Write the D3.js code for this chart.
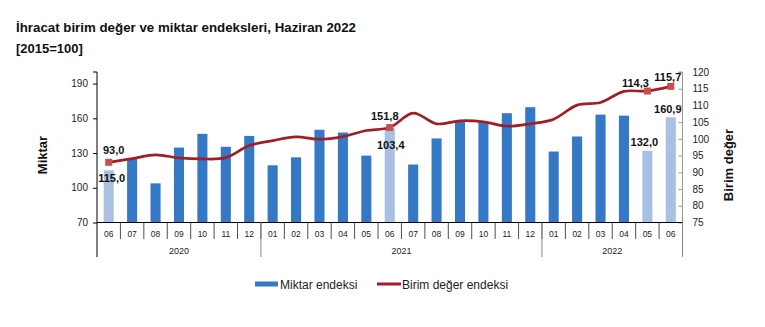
<!DOCTYPE html>
<html><head><meta charset="utf-8">
<script src="https://cdn.jsdelivr.net/npm/d3@7"></script>
<style>
html,body{margin:0;padding:0;background:#fff;}
svg{display:block;font-family:"Liberation Sans",Arial,sans-serif;}
</style></head>
<body><svg id="c" width="765" height="327"></svg>
<script>
const categories = ["2020-06","2020-07","2020-08","2020-09","2020-10","2020-11","2020-12",
  "2021-01","2021-02","2021-03","2021-04","2021-05","2021-06","2021-07","2021-08","2021-09","2021-10","2021-11","2021-12",
  "2022-01","2022-02","2022-03","2022-04","2022-05","2022-06"];
const miktar = [115.0,125.5,103.8,134.7,146.6,135.4,144.8,119.4,126.3,150.1,147.7,127.8,151.8,120.1,142.6,156.8,156.6,164.4,169.6,131.3,144.3,163.2,162.3,132.0,160.9];
const birimDeger = [93.0,94.1,95.2,94.3,94.0,94.4,98.0,99.5,100.6,99.9,100.7,102.5,103.4,107.7,104.5,105.4,105.1,103.8,104.5,105.9,110.1,110.9,114.2,114.3,115.7];
const highlighted = ["2020-06","2021-06","2022-05","2022-06"];
const leftTicks = [70,100,130,160,190];
const rightTicks = [75,80,85,90,95,100,105,110,115,120];
const seriesNames = ["Miktar endeksi","Birim değer endeksi"];
const titleLines = ["İhracat birim değer ve miktar endeksleri, Haziran 2022","[2015=100]"];

// label placement (styling only)
const labelSpecs = [
  {cat:"2020-06", s:"line", dx:5,  dy:-8},
  {cat:"2020-06", s:"bar",  dx:3,  dy:12},
  {cat:"2021-06", s:"bar",  dx:-5, dy:-8},
  {cat:"2021-06", s:"line", dx:1,  dy:21},
  {cat:"2022-05", s:"line", dx:-12,dy:-4},
  {cat:"2022-05", s:"bar",  dx:-3, dy:-5},
  {cat:"2022-06", s:"line", dx:-3, dy:-5},
  {cat:"2022-06", s:"bar",  dx:-3, dy:-4}
];

const C_BAR = "#3478c6", C_BAR_L = "#a8c0e4", C_LINE = "#a11f24", C_MARK = "#c4504f";
const L = 97, R = 682.5, T = 72, B = 222.5;
const svg = d3.select("#c");

const x = d3.scaleBand().domain(categories).range([L, R]).paddingInner(0.57).paddingOuter(0.285);
const yL = d3.scaleLinear().domain([70, 200]).range([B, T]);
const yR = d3.scaleLinear().domain([75, 120]).range([B, T]);
const fmt = v => d3.format(".1f")(v).replace(".", ",");
const cx = c => x(c) + x.bandwidth() / 2;

// title
svg.selectAll("text.title").data(titleLines).join("text")
  .attr("x", 16).attr("y", (d, i) => 32 + i * 21)
  .attr("font-size", (d, i) => i === 0 ? 13.3 : 13).attr("font-weight", "bold").attr("fill", "#111").text(d => d);

// bars
svg.append("g").selectAll("rect").data(categories).join("rect")
  .attr("x", d => x(d)).attr("width", x.bandwidth())
  .attr("y", (d, i) => yL(miktar[i])).attr("height", (d, i) => B - yL(miktar[i]))
  .attr("fill", d => highlighted.includes(d) ? C_BAR_L : C_BAR);

// line
const line = d3.line().x((d, i) => cx(categories[i])).y(d => yR(d)).curve(d3.curveCatmullRom.alpha(0.5));
svg.append("path").datum(birimDeger).attr("d", line)
  .attr("fill", "none").attr("stroke", C_LINE).attr("stroke-width", 2.7);

// markers
svg.append("g").selectAll("rect").data(highlighted).join("rect")
  .attr("x", d => cx(d) - 3.5).attr("y", d => yR(birimDeger[categories.indexOf(d)]) - 3.5)
  .attr("width", 7).attr("height", 7).attr("fill", C_MARK);

// data labels
svg.append("g").selectAll("text").data(labelSpecs).join("text")
  .attr("x", d => cx(d.cat) + d.dx)
  .attr("y", d => {
    const i = categories.indexOf(d.cat);
    return (d.s === "bar" ? yL(miktar[i]) : yR(birimDeger[i])) + d.dy;
  })
  .attr("text-anchor", "middle").attr("font-size", 11).attr("font-weight", "bold").attr("fill", "#111")
  .text(d => { const i = categories.indexOf(d.cat); return fmt(d.s === "bar" ? miktar[i] : birimDeger[i]); });

// left axis
const gl = svg.append("g").attr("transform", `translate(${L},0)`)
  .call(d3.axisLeft(yL).tickValues(leftTicks).tickSize(4).tickPadding(5));
gl.select(".domain").attr("d", `M-4,${T}H0V${B}`).attr("stroke", "#000");
gl.selectAll(".tick line").attr("stroke", "#000");
gl.selectAll("text").attr("font-size", 10).attr("font-family", "Liberation Sans, Arial, sans-serif").attr("fill", "#222");

// right axis
const gr = svg.append("g").attr("transform", `translate(${R},0)`)
  .call(d3.axisRight(yR).tickValues(rightTicks).tickSize(0).tickPadding(10));
gr.select(".domain").attr("d", `M-4,${T}H0V${B}`).attr("stroke", "#999");
gr.selectAll(".tick").append("line").attr("x1", -4).attr("x2", 0).attr("stroke", "#999");
gr.selectAll("text").attr("font-size", 10).attr("font-family", "Liberation Sans, Arial, sans-serif").attr("fill", "#222");

// bottom axis
svg.append("line").attr("x1", L).attr("x2", R).attr("y1", B).attr("y2", B).attr("stroke", "#000").attr("stroke-width", 1.2);
const step = x.step();
const xg = svg.append("g");
// month separators
xg.selectAll("line.m").data(categories.slice(1)).join("line")
  .attr("x1", d => x(d) - step * 0.285).attr("x2", d => x(d) - step * 0.285)
  .attr("y1", B).attr("y2", 239).attr("stroke", "#222").attr("stroke-width", 0.8);
// month labels
xg.selectAll("text.m").data(categories).join("text")
  .attr("x", d => cx(d)).attr("y", 237).attr("text-anchor", "middle")
  .attr("font-size", 8.5).attr("fill", "#222").text(d => d.split("-")[1]);
// year groups
const years = Array.from(d3.group(categories, d => d.split("-")[0]), ([k, v]) => ({year: k, first: v[0], last: v[v.length - 1]}));
const edges = [];
years.forEach((g, j) => { edges.push({x: x(g.first) - step * 0.285, outer: j === 0}); });
edges.push({x: R, outer: true});
xg.selectAll("line.y").data(edges).join("line")
  .attr("x1", d => d.x).attr("x2", d => d.x).attr("y1", B).attr("y2", 257)
  .attr("stroke", (d, i) => i === 0 ? "#000" : "#888").attr("stroke-width", 1);
xg.selectAll("text.y").data(years).join("text")
  .attr("x", d => (x(d.first) + x(d.last) + x.bandwidth()) / 2).attr("y", 254)
  .attr("text-anchor", "middle").attr("font-size", 9).attr("fill", "#222").text(d => d.year);

// axis titles
svg.append("text").attr("transform", "translate(47,155) rotate(-90)").attr("text-anchor", "middle")
  .attr("font-size", 13).attr("font-weight", "bold").attr("fill", "#111").text("Miktar");
svg.append("text").attr("transform", "translate(733,165) rotate(-90)").attr("text-anchor", "middle")
  .attr("font-size", 13).attr("font-weight", "bold").attr("fill", "#111").text("Birim değer");

// legend
const lg = svg.append("g");
lg.append("rect").attr("x", 255).attr("y", 281.5).attr("width", 23).attr("height", 5).attr("fill", C_BAR);
lg.append("text").attr("x", 280).attr("y", 288.5).attr("font-size", 12).attr("fill", "#222").text(seriesNames[0]);
lg.append("line").attr("x1", 377).attr("x2", 401).attr("y1", 284).attr("y2", 284).attr("stroke", C_LINE).attr("stroke-width", 3);
lg.append("text").attr("x", 402).attr("y", 288.5).attr("font-size", 12).attr("fill", "#222").text(seriesNames[1]);
</script></body></html>
